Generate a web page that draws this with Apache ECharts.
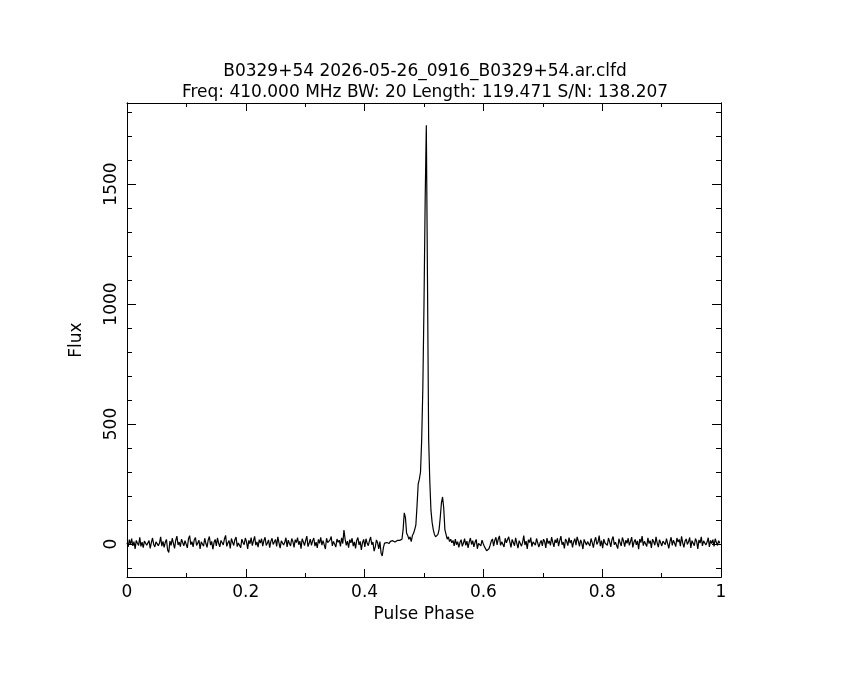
<!DOCTYPE html>
<html>
<head>
<meta charset="utf-8">
<script src="https://cdn.jsdelivr.net/npm/echarts@6/dist/echarts.min.js"></script>
<style>
  html, body { margin: 0; padding: 0; background: #fff; }
  #main { width: 850px; height: 680px; }
</style>
</head>
<body>
<div id="main"></div>
<script>
var titleLine1 = 'B0329+54 2026-05-26_0916_B0329+54.ar.clfd';
var titleLine2 = 'Freq: 410.000 MHz BW: 20 Length: 119.471 S/N: 138.207';

// flux per phase bin, 512 bins
var fluxBefore = [
  5, -12, 18, -3, 22, -8, 10, -20, 15, 3, -6, 28, -10, 8, -15, 12,
  20, -5, 2, 14, -18, 6, 25, -2, -12, 9, 16, -7, 4, 30, -9, 11,
  -14, 7, 19, -25, -35, 12, -6, 24, 3, -18, 15, 33, -4, 8, -11, 20,
  28, -8, 14, 6, -16, 22, 35, -3, 10, -12, 18, 27, -6, 4, 16, -20,
  9, 13, -9, 24, 2, -14, 17, 31, -5, 11, -22, 6, 19, -8, 26, 3,
  -12, 15, 8, -4, 21, 36, -10, 5, 14, -18, 23, 7, -6, 18, 29, -11,
  4, 12, -16, 20, 6, -3, 25, 10, -20, 15, 1, 27, -7, 13, 32, -5,
  9, -13, 18, 4, 22, -9, 14, 28, -6, 3, 17, -15, 11, 24, -2, 8,
  19, -10, 30, 5, -17, 13, 21, -4, 7, 26, -12, 16, 2, -8, 23, 10,
  -14, 18, 6, 27, -3, 12, -19, 22, 9, -7, 15, 33, -11, 4, 20, -6,
  13, 25, -9, 8, -16, 19, 3, 28, -5, 14, 10, -21, 24, 6, -2, 17,
  31, -8, 11, 4, -13, 21, 7, 16, -10, 26, 2, 58, 20, -6, 12, -15,
  18, 5, 24, -9, 9, -18, 15, 27, -4, 11, -25, 6, 19, -12, 22, 3,
  -7, 14, 29, -3, 8, -30, -12, 17, 5, -20, 10, -38, -50, -15, 4, 12,
  6, 9, 2, 11, 7, 14, 10, 8, 13, 15, 12
];
var fluxPulse = [
  15, 18, 20, 60, 130, 110, 45, 35, 20, 30,
  10, 35, 45, 60, 80, 160, 250, 270, 300, 433,
  650, 1000, 1430, 1745, 1100, 440, 260, 140, 90, 60,
  40, 30, 25, 40, 60, 110, 170, 196, 150, 60,
  40, 20, 30, 10, 20, 5
];
var fluxAfter = [
  15, -8, 20, -3, 10, -14, 6,
  18, -10, 4, 22, -6, 12, -16, 9, 25, -2, 14, -12, 7, 19, -20, 3,
  11, -8, 16, 2, -10, -18, -28, -35, -20, -5, 12, 21, -9, 15, 28, -4,
  20, 34, -6, 9, 17, -12, 24, 5, -3, 30, 8, -14, 19, 11, -7, 26,
  3, -17, 14, 22, -9, 7, 35, -4, 12, -20, 18, 6, 27, -11, 9, 16,
  -5, 23, 31, -13, 4, 15, -8, 20, 10, -16, 25, 2, 13, -6, 29, 7,
  -12, 18, 5, 24, -9, 14, 33, -3, 8, -18, 21, 11, -7, 27, 4, 16,
  -14, 9, 22, -5, 30, 12, -10, 17, 3, -21, 19, 26, -4, 10, 15, -8,
  23, 6, -15, 13, 28, -2, 8, 35, -9, 14, -17, 20, 4, 11, -6, 25,
  9, -12, 18, 31, -3, 7, 15, -19, 22, 5, -8, 27, 12, -11, 16, 3,
  24, -6, 10, 29, -14, 8, 19, -4, 13, -22, 21, 6, 33, -7, 11, 17,
  -10, 26, 2, 14, -16, 20, 9, -5, 30, 4, -13, 18, 24, -8, 12, 7,
  -3, 22, 15, -18, 10, 28, -6, 16, 3, -11, 25, 8, 19, -9, 32, 5,
  -14, 12, 21, -2, 9, 27, -16, 14, 6, -7, 23, 11, -20, 17, 4, 30,
  -8, 13, 20, -4, 8, 26, -12, 15, 2, 18, -10, 22, 7, -6, 14, 3
];
var nBins = 512;

var yMajorTicks = [0, 500, 1000, 1500];
var yMinorTicks = [-100, 100, 200, 300, 400, 600, 700, 800, 900, 1100, 1200, 1300, 1400, 1600, 1700, 1800];

var flux = fluxBefore.concat(fluxPulse, fluxAfter);
var profile = flux.map(function (v, i) { return [i / nBins, v]; });

var font = 'DejaVu Sans';
var yMin = -137.5, yMax = 1837.5;

var dom = document.getElementById('main');
var myChart = echarts.init(dom);

function yAx(pos, ticks, len, labels) {
  return {
    type: 'value', position: pos, min: yMin, max: yMax,
    name: labels ? 'Flux' : '',
    nameLocation: 'middle', nameGap: 42, nameRotate: 90,
    nameTextStyle: { color: '#000', fontFamily: font, fontSize: 17 },
    axisLine: { show: true, onZero: false, lineStyle: { color: '#000', width: 1 } },
    axisTick: { show: true, inside: true, length: len, customValues: ticks, lineStyle: { color: '#000' } },
    axisLabel: {
      show: labels, customValues: ticks, rotate: 90, margin: 7,
      color: '#000', fontFamily: font, fontSize: 17,
      formatter: function (v) { return String(v); }
    },
    splitLine: { show: false }
  };
}
function xAx(pos, labels) {
  return {
    type: 'value', position: pos, min: 0, max: 1, interval: 0.2,
    name: labels ? 'Pulse Phase' : '',
    nameLocation: 'middle', nameGap: 28,
    nameTextStyle: { color: '#000', fontFamily: font, fontSize: 17 },
    axisLine: { show: true, onZero: false, lineStyle: { color: '#000', width: 1 } },
    axisTick: { show: true, inside: true, length: 8, lineStyle: { color: '#000' } },
    minorTick: { show: true, splitNumber: 2, length: 4, lineStyle: { color: '#000' } },
    axisLabel: { show: labels, margin: 7, color: '#000', fontFamily: font, fontSize: 17 },
    splitLine: { show: false }, minorSplitLine: { show: false }
  };
}

var option = {
  backgroundColor: '#fff',
  animation: false,
  title: {
    text: titleLine1 + '\n' + titleLine2,
    left: 'center', top: 56,
    textStyle: { color: '#000', fontFamily: font, fontSize: 17, fontWeight: 'normal', lineHeight: 21 }
  },
  grid: { left: 127, right: 129, top: 103, bottom: 103 },
  xAxis: [xAx('bottom', true), xAx('top', false)],
  yAxis: [
    yAx('left', yMajorTicks, 9, true),
    yAx('right', yMajorTicks, 9, false),
    yAx('left', yMinorTicks, 5, false),
    yAx('right', yMinorTicks, 5, false)
  ],
  series: [{
    type: 'line',
    data: profile,
    xAxisIndex: 0, yAxisIndex: 0,
    showSymbol: false,
    lineStyle: { color: '#000', width: 1.2 }
  }]
};

if (option && typeof option === 'object') {
  myChart.setOption(option);
}
</script>
</body>
</html>
